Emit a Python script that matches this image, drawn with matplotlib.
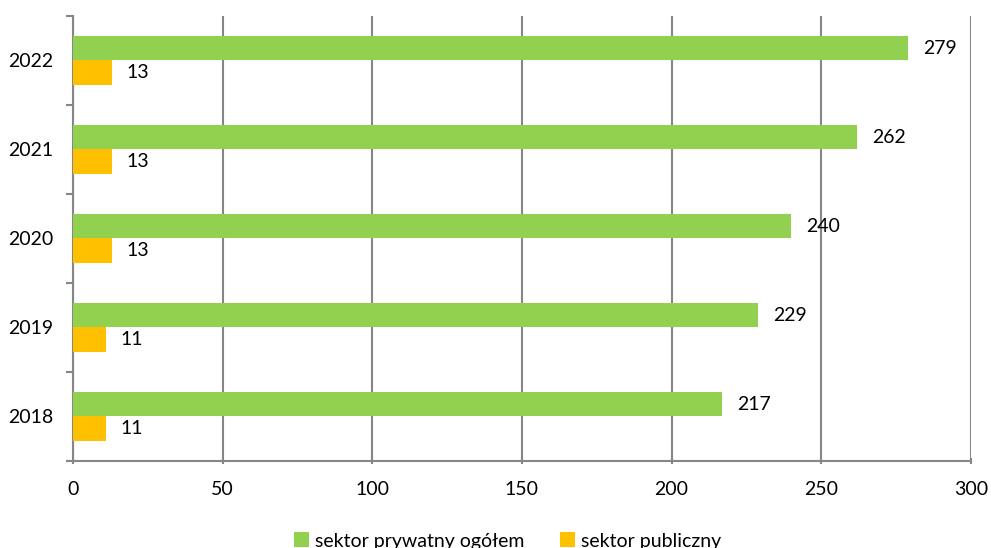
import matplotlib.pyplot as plt
import numpy as np

plt.rcParams['font.family'] = ['Lato', 'DejaVu Sans']

years = ['2018', '2019', '2020', '2021', '2022']
prywatny = [217, 229, 240, 262, 279]
publiczny = [11, 11, 13, 13, 13]

fig = plt.figure(figsize=(9.91, 5.48), dpi=100)
ax = fig.add_axes([0.0737, 0.1588, 0.906, 0.812])

y = np.arange(len(years))
h = 0.28
b1 = ax.barh(y + h / 2, prywatny, height=h, color='#92D050', label='sektor prywatny ogółem', zorder=3)
b2 = ax.barh(y - h / 2, publiczny, height=h, color='#FFC000', label='sektor publiczny', zorder=3)

# value labels right of bar ends
for rects, vals in ((b1, prywatny), (b2, publiczny)):
    for r, v in zip(rects, vals):
        ax.annotate(str(v), (r.get_width(), r.get_y() + r.get_height() / 2),
                    xytext=(15, 0), textcoords='offset pixels',
                    va='center', ha='left', fontsize=14)

ax.set_xlim(0, 300)
ax.set_ylim(-0.5, 4.5)
ax.set_xticks(range(0, 301, 50))
ax.set_yticks(y)
ax.set_yticklabels(years)
ax.set_yticks(np.arange(-0.5, 5, 1), minor=True)
ax.tick_params(axis='y', which='major', length=0, labelsize=14, pad=14)
ax.tick_params(axis='y', which='minor', length=5, width=1.5, color='#868686', direction='out')
ax.tick_params(axis='x', length=5, width=1.5, color='#868686', direction='inout', labelsize=14, pad=12)

ax.grid(axis='x', color='#868686', linewidth=1.5, zorder=0)
for s in ('top', 'right'):
    ax.spines[s].set_visible(False)
for s in ('left', 'bottom'):
    ax.spines[s].set_color('#868686')
    ax.spines[s].set_linewidth(1.5)

fig.legend(handles=[b1, b2], loc='lower center', bbox_to_anchor=(0.512, -0.035), ncol=2,
           frameon=False, fontsize=14, handlelength=0.8, handleheight=0.8,
           handletextpad=0.3, columnspacing=1.8)

fig.savefig('out.png', dpi=100)
